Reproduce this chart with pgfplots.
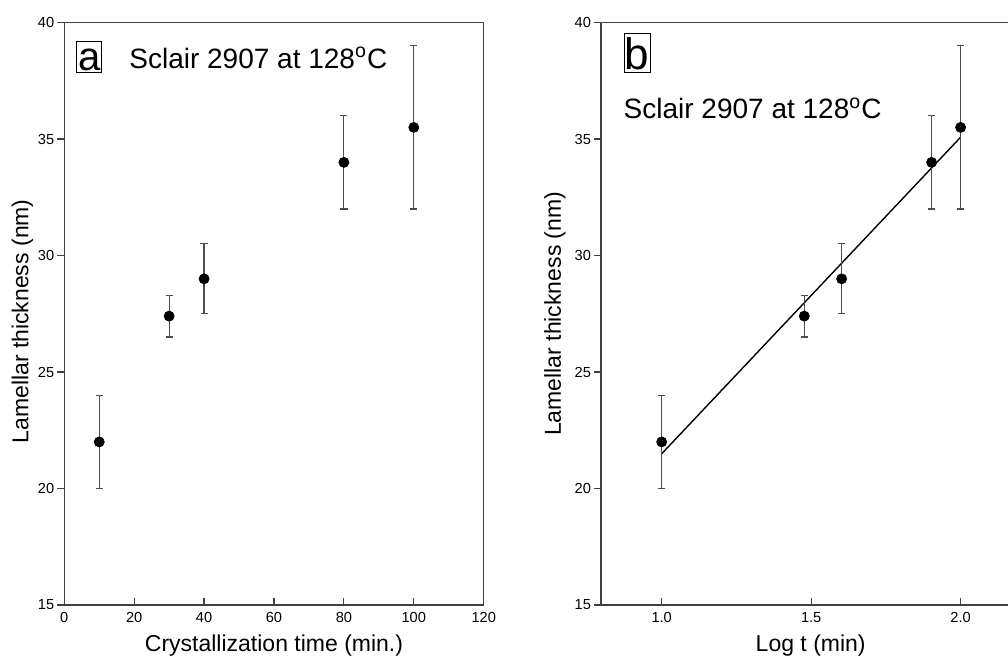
\documentclass[border=0pt]{standalone}
\usepackage{fontspec}
\setmainfont{Liberation Sans}
\usepackage{pgfplots}
\usepackage{pgfplotstable}
\pgfplotsset{compat=1.18}

% t (min), log t, thickness (nm), error +, error -
\pgfplotstableread{
t   logt  L    ep   em
10  1.000 22.0 2.0  2.0
30  1.477 27.4 0.9  0.9
40  1.602 29.0 1.5  1.5
80  1.903 34.0 2.0  2.0
100 2.000 35.5 3.5  3.5
}\lamdata

\pgfplotsset{
  lamstyle/.style={
    scale only axis, width=209.7pt, height=291.2pt,
    anchor=south west,
    ymin=15, ymax=40, ytick={15,20,...,40},
    axis line style={black!75, line width=0.6pt},
    tick style={black!75, line width=0.6pt},
    xtick pos=bottom, ytick pos=left,
    xtick align=inside, ytick align=outside,
    major tick length=3.5pt,
    ticklabel style={font=\fontsize{7.3}{8}\selectfont},
    yticklabel style={xshift=2pt},
    /pgf/number format/assume math mode=true,
    label style={font=\fontsize{11.5}{13}\selectfont},
    xlabel style={at={(axis description cs:0.5,0)}, anchor=base, yshift=-23.35pt},
  },
  errpts/.style={only marks, mark=*, mark size=2.5pt, mark options={black},
    error bars/.cd, y dir=both, y explicit,
    error bar style={black!70, line width=0.6pt},
    error mark options={rotate=90, mark size=1.8pt, black!70, line width=0.6pt}},
}

\begin{document}
\begin{tikzpicture}
\begin{axis}[lamstyle, at={(32.15pt,25.5pt)},
  xmin=0, xmax=120, xtick={0,20,...,120},
  xlabel={Crystallization time (min.)},
  ylabel={Lamellar thickness (nm)},
  ylabel style={at={(axis description cs:-0.0858,0.487)}, anchor=base},
]
\addplot[errpts] table[x=t, y=L, y error plus=ep, y error minus=em]{\lamdata};
\end{axis}

\begin{axis}[lamstyle, at={(300.5pt,25.5pt)},
  xmin=0.797, xmax=2.2, xtick={1.0,1.5,2.0},
  xticklabel style={/pgf/number format/.cd, fixed, fixed zerofill, precision=1},
  xlabel={Log t (min)},
  ylabel={Lamellar thickness (nm)},
  ylabel style={at={(axis description cs:-0.0954,0.5)}, anchor=base},
]
\addplot[black, line width=0.7pt] coordinates {(1.0,21.49) (2.0,35.08)};
\addplot[errpts] table[x=logt, y=L, y error plus=ep, y error minus=em]{\lamdata};
\end{axis}

% panel letters and captions
\draw[black, line width=0.5pt] (38.35pt,291.65pt) rectangle (50.85pt,307.15pt);
\node[anchor=base, inner sep=0, font=\fontsize{20}{20}\selectfont] at (44.6pt,292.5pt) {a};
\node[anchor=base west, inner sep=0, font=\fontsize{14}{16}\selectfont] at (64.5pt,293.85pt) {Sclair 2907 at 128\textsuperscript{o}C};

\draw[black, line width=0.5pt] (312.15pt,291.65pt) rectangle (325pt,311.35pt);
\node[anchor=base, inner sep=0, font=\fontsize{22}{22}\selectfont] at (318.6pt,293pt) {b};
\node[anchor=base west, inner sep=0, font=\fontsize{14}{16}\selectfont] at (311.65pt,268.5pt) {Sclair 2907 at 128\textsuperscript{o}C};

\pgfresetboundingbox
\path[use as bounding box] (0,0) rectangle (504pt,328pt);
\end{tikzpicture}
\end{document}
